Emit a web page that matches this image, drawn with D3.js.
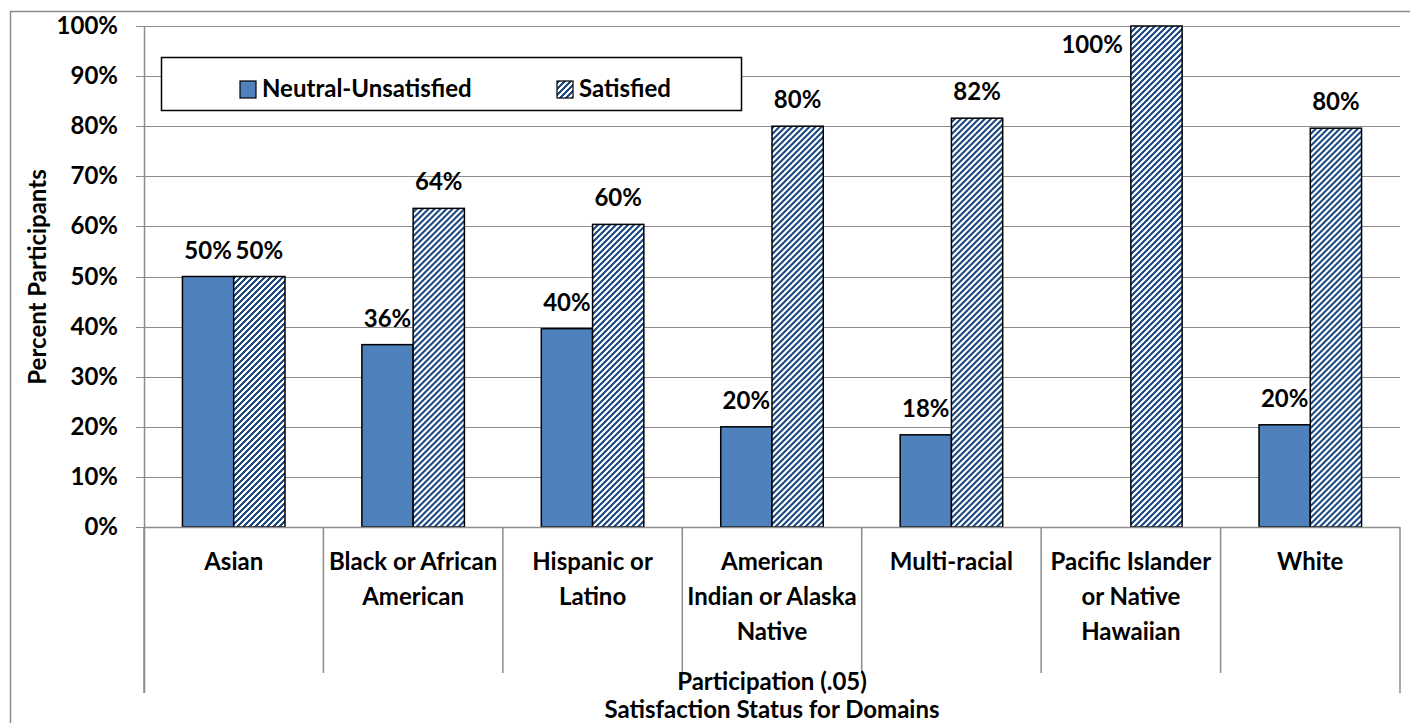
<!DOCTYPE html>
<html lang="en">
<head>
<meta charset="utf-8">
<style type="text/css">
body { margin: 0; background: #fff; }
text {
	font-family: Lato, "Liberation Sans", sans-serif;
	font-weight: bold;
	font-size: 24px;
	fill: #000;
}
.grid line { stroke: #8c8c8c; stroke-width: 1px; }
.bar { stroke: #000; stroke-width: 1.5px; }
</style>
</head>
<body>
	<svg width="1410" height="723"></svg>

	<script src="https://d3js.org/d3.v7.min.js" type="text/javascript"></script>

	<script type="text/javascript">
    // chart data
    var categories = ["Asian", "Black or African\nAmerican", "Hispanic or\nLatino",
        "American\nIndian or Alaska\nNative", "Multi-racial",
        "Pacific Islander\nor Native\nHawaiian", "White"];
    var series = ["Neutral-Unsatisfied", "Satisfied"];
    var neutral = [50, 36.4, 39.6, 20, 18.4, 0, 20.4];
    var satisfied = [50, 63.6, 60.4, 80, 81.6, 100, 79.6];
    var yTicks = [0, 10, 20, 30, 40, 50, 60, 70, 80, 90, 100];
    var yTitle = "Percent Participants";
    var xTitles = ["Participation (.05)", "Satisfaction Status for Domains"];

    var svg = d3.select("svg"),
        plotL = 144, plotR = 1400, plotT = 26, plotB = 527;

    var blue = "#4f81bd", navy = "#1f4b85", gray = "#8c8c8c";

    // pixel "wide upward diagonal" hatch, like the Excel pattern fill
    var pat = svg.append("defs").append("pattern")
        .attr("id", "hatch")
        .attr("patternUnits", "userSpaceOnUse")
        .attr("width", 6).attr("height", 6);
    pat.append("rect").attr("width", 6).attr("height", 6).attr("fill", "#fff");
    var cells = [];
    for (var py = 0; py < 6; py++)
        for (var px = 0; px < 6; px++)
            if ((px + py) % 6 < 3) cells.push([px, py]);
    pat.selectAll(".px")
        .data(cells)
        .enter()
        .append("rect")
        .attr("x", function (d) { return d[0]; })
        .attr("y", function (d) { return d[1]; })
        .attr("width", 1).attr("height", 1)
        .attr("shape-rendering", "crispEdges")
        .attr("fill", navy);

    var rows = categories.map(function (c, i) {
        return {cat: c, values: [{key: series[0], v: neutral[i]}, {key: series[1], v: satisfied[i]}]};
    });

    var x0 = d3.scaleBand().domain(categories).range([plotL, plotR]);
    var x1 = d3.scaleBand().domain(series).range([0, x0.bandwidth()]).paddingOuter(0.75);
    var y = d3.scaleLinear().domain([0, 100]).range([plotB, plotT]);

    // outer chart frame (right and bottom edges run off the picture)
    svg.append("rect")
        .attr("x", 10.5).attr("y", 11.5)
        .attr("width", 1410).attr("height", 730)
        .attr("fill", "none").attr("stroke", gray).attr("stroke-width", 1.5);

    // gridlines + y ticks
    var grid = svg.append("g").attr("class", "grid");
    grid.selectAll("line")
        .data(yTicks)
        .enter()
        .append("line")
        .attr("x1", plotL - 8).attr("x2", plotR)
        .attr("y1", function (d) { return Math.round(y(d)) + 0.5; })
        .attr("y2", function (d) { return Math.round(y(d)) + 0.5; });

    svg.append("g").selectAll("text")
        .data(yTicks)
        .enter()
        .append("text")
        .attr("x", 118)
        .attr("y", function (d) { return y(d) + 8; })
        .attr("text-anchor", "end")
        .text(function (d) { return d + "%"; });

    // y axis line
    svg.append("line")
        .attr("x1", plotL + 0.5).attr("x2", plotL + 0.5)
        .attr("y1", plotT).attr("y2", 693)
        .attr("stroke", gray).attr("stroke-width", 1.5);

    // category dividers below the axis
    var edges = d3.range(categories.length + 1).map(function (i) { return plotL + i * x0.step(); });
    svg.append("g").selectAll("line")
        .data(edges)
        .enter()
        .append("line")
        .attr("x1", function (d) { return d; }).attr("x2", function (d) { return d; })
        .attr("y1", plotB)
        .attr("y2", function (d, i) { return (i == 0 || i == categories.length) ? 693 : 673; })
        .attr("stroke", gray).attr("stroke-width", 1.5);

    // bars
    var groups = svg.append("g").selectAll("g")
        .data(rows)
        .enter()
        .append("g")
        .attr("transform", function (d) { return "translate(" + x0(d.cat) + ",0)"; });

    groups.selectAll("rect")
        .data(function (d) { return d.values.filter(function (e) { return e.v > 0; }); })
        .enter()
        .append("rect")
        .attr("class", "bar")
        .attr("x", function (d) { return x1(d.key); })
        .attr("y", function (d) { return y(d.v); })
        .attr("width", x1.bandwidth())
        .attr("height", function (d) { return plotB - y(d.v); })
        .attr("fill", function (d) { return d.key == series[0] ? blue : "url(#hatch)"; });

    // data labels; the 100% one does not fit above so it sits on the left
    function fitsAbove(d) { return y(d.v) - 26 >= plotT; }
    groups.selectAll("text")
        .data(function (d) { return d.values.filter(function (e) { return e.v > 0; }); })
        .enter()
        .append("text")
        .attr("text-anchor", function (d) { return fitsAbove(d) ? "middle" : "end"; })
        .attr("x", function (d) {
            return fitsAbove(d) ? x1(d.key) + x1.bandwidth() / 2 : x1(d.key) - 8;
        })
        .attr("y", function (d) {
            return fitsAbove(d) ? y(d.v) - 18 : y(d.v) + 27;
        })
        .text(function (d) { return Math.round(d.v) + "%"; });

    // axis line on top of bars
    svg.append("line")
        .attr("x1", plotL).attr("x2", plotR)
        .attr("y1", plotB + 0.5).attr("y2", plotB + 0.5)
        .attr("stroke", gray).attr("stroke-width", 1.5);

    // category labels
    var catLabels = svg.append("g").selectAll("text")
        .data(categories)
        .enter()
        .append("text")
        .attr("text-anchor", "middle")
        .attr("x", function (d) { return x0(d) + x0.bandwidth() / 2; })
        .attr("y", 570);

    catLabels.selectAll("tspan")
        .data(function (d) { return d.split("\n"); })
        .enter()
        .append("tspan")
        .attr("x", function () { return d3.select(this.parentNode).attr("x"); })
        .attr("dy", function (d, i) { return i == 0 ? 0 : 35; })
        .text(function (d) { return d; });

    // x titles
    svg.append("g").selectAll("text")
        .data(xTitles)
        .enter()
        .append("text")
        .attr("text-anchor", "middle")
        .attr("x", (plotL + plotR) / 2)
        .attr("y", function (d, i) { return 690 + i * 28; })
        .text(function (d) { return d; });

    // y title
    svg.append("text")
        .attr("transform", "translate(46,277) rotate(-90)")
        .attr("text-anchor", "middle")
        .text(yTitle);

    // legend
    var legend = svg.append("g");
    legend.append("rect")
        .attr("x", 161.5).attr("y", 57.5)
        .attr("width", 580).attr("height", 53)
        .attr("fill", "#fff").attr("stroke", "#000").attr("stroke-width", 1.5);

    var legendX = [240, 557];
    var item = legend.selectAll(".item")
        .data(series)
        .enter()
        .append("g")
        .attr("class", "item")
        .attr("transform", function (d, i) { return "translate(" + legendX[i] + ",81)"; });

    item.append("rect")
        .attr("width", 16).attr("height", 17)
        .attr("fill", function (d, i) { return i == 0 ? blue : "url(#hatch)"; })
        .attr("stroke", "#000").attr("stroke-width", 1.2);

    item.append("text")
        .attr("x", 22).attr("y", 16)
        .text(function (d) { return d; });
</script>

</body>
</html>
